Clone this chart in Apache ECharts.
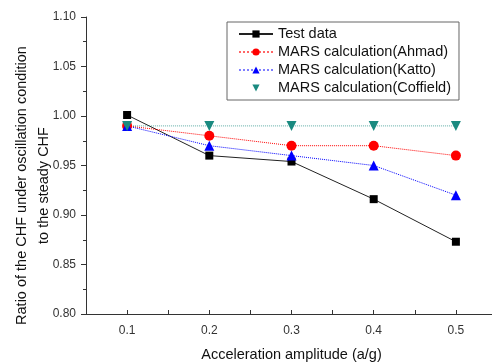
<!DOCTYPE html>
<html>
<head>
<meta charset="utf-8">
<script src="https://cdn.jsdelivr.net/npm/echarts@6/dist/echarts.min.js"></script>
<style>
  html, body { margin: 0; padding: 0; background: #fff; }
  #chart { width: 492px; height: 363px; }
</style>
</head>
<body>
<div id="chart"></div>
<script>
  // 数据
  let amplitude = [0.1, 0.2, 0.3, 0.4, 0.5];
  let testData = [1.001, 0.960, 0.954, 0.916, 0.873];
  let ahmad = [0.990, 0.980, 0.970, 0.970, 0.960];
  let katto = [0.990, 0.970, 0.960, 0.950, 0.920];
  let coffield = [0.990, 0.990, 0.990, 0.990, 0.990];

  let pairs = (ys) => amplitude.map((x, i) => [x, ys[i]]);
  let font = "Liberation Sans, Arial, sans-serif";

  let myChart = echarts.init(document.getElementById("chart"));
  let options = {
    animation: false,
    textStyle: { fontFamily: font },
    grid: { left: 86, right: -5, top: 17, bottom: 49, outerBoundsMode: "none", containLabel: false },
    legend: {
      left: 227, top: 22, width: 232,
      orient: "vertical",
      align: "left",
      itemWidth: 34, itemHeight: 9, itemGap: 2,
      borderColor: "#666", borderWidth: 1,
      padding: [4, 8, 4, 11],
      textStyle: { fontSize: 14.5, lineHeight: 16, color: "#111", fontFamily: font },
      data: [
        { name: "Test data" },
        { name: "MARS calculation(Ahmad)", lineStyle: { opacity: 0.6 } },
        { name: "MARS calculation(Katto)", lineStyle: { opacity: 0.5 } },
        { name: "MARS calculation(Coffield)", lineStyle: { opacity: 0 } }
      ]
    },
    xAxis: {
      type: "value",
      min: 0.05, max: 0.55, interval: 0.05,
      name: "Acceleration amplitude (a/g)",
      nameLocation: "middle", nameGap: 33,
      nameMoveOverlap: false,
      nameTextStyle: { fontSize: 14.5, color: "#111" },
      axisLine: { lineStyle: { color: "#333", width: 1 } },
      axisTick: { inside: true, length: 4, lineStyle: { color: "#333" } },
      axisLabel: {
        fontSize: 12, color: "#333", margin: 11,
        formatter: (v) => {
          let k = Math.round(v * 100);
          return k % 10 === 0 ? (k / 100).toFixed(1) : "";
        }
      },
      splitLine: { show: false }
    },
    yAxis: {
      type: "value",
      min: 0.8, max: 1.1, interval: 0.05,
      name: "Ratio of the CHF under oscillation condition\nto the steady CHF",
      nameLocation: "middle", nameGap: 31,
      nameMoveOverlap: false,
      nameTextStyle: { fontSize: 14.5, color: "#111", lineHeight: 22, padding: [0, 40, 0, 0] },
      axisLine: { show: true, lineStyle: { color: "#333", width: 1 } },
      axisTick: { show: true, length: 5, lineStyle: { color: "#333" } },
      minorTick: { show: true, splitNumber: 2, length: 3, lineStyle: { color: "#333" } },
      axisLabel: { fontSize: 12, color: "#333", margin: 10, formatter: (v) => v.toFixed(2) },
      splitLine: { show: false }
    },
    series: [
      {
        name: "Test data", type: "line", data: pairs(testData),
        symbol: "rect", symbolSize: 8,
        itemStyle: { color: "#000" },
        lineStyle: { color: "#222", width: 1, type: "solid" }
      },
      {
        name: "MARS calculation(Ahmad)", type: "line", data: pairs(ahmad),
        symbol: "circle", symbolSize: 10,
        itemStyle: { color: "#ff0000" },
        lineStyle: { color: "#ff0000", width: 1, type: "dotted" }
      },
      {
        name: "MARS calculation(Katto)", type: "line", data: pairs(katto),
        symbol: "triangle", symbolSize: 10,
        itemStyle: { color: "#0000ff" },
        lineStyle: { color: "#0000ff", width: 1, type: "dotted" }
      },
      {
        name: "MARS calculation(Coffield)", type: "line", data: pairs(coffield),
        symbol: "triangle", symbolRotate: 180, symbolSize: 10,
        itemStyle: { color: "#1a8a80" },
        lineStyle: { color: "#1a8a80", width: 1, type: "dotted", opacity: 0.7 }
      }
    ]
  };
  myChart.setOption(options);
</script>
</body>
</html>
